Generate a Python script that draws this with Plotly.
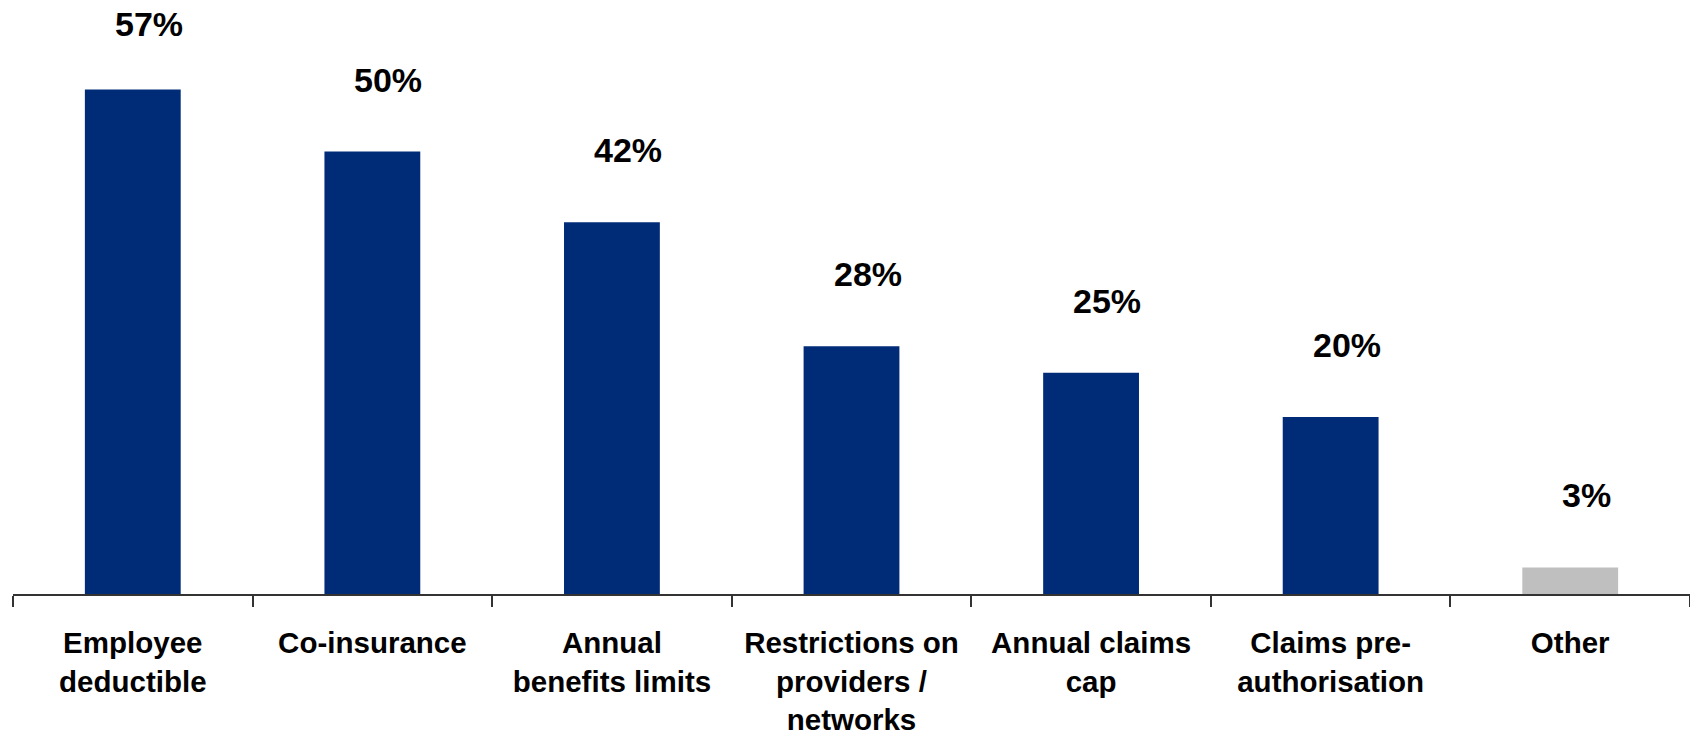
import plotly.graph_objects as go

categories = ["Employee<br>deductible", "Co-insurance", "Annual<br>benefits limits",
              "Restrictions on<br>providers /<br>networks", "Annual claims<br>cap",
              "Claims pre-<br>authorisation", "Other"]
values = [57, 50, 42, 28, 25, 20, 3]
labels = ["57%", "50%", "42%", "28%", "25%", "20%", "3%"]
colors = ["#002C77"] * 6 + ["#BFBFBF"]

fig = go.Figure()
fig.add_trace(go.Bar(x=categories, y=values, marker=dict(color=colors, line=dict(width=0)),
                     hoverinfo="skip"))

for i, (c, v, t) in enumerate(zip(categories, values, labels)):
    fig.add_annotation(x=c, y=v, text=t, showarrow=False, yshift=66 if i == 0 else 72, xshift=16,
                       yanchor="middle", xanchor="center",
                       font=dict(family="Liberation Sans, Arial, sans-serif", size=34,
                                 color="black", weight="bold"))

fig.update_layout(
    width=1690, height=737,
    margin=dict(l=13, r=0, t=63, b=143, autoexpand=False),
    paper_bgcolor="white", plot_bgcolor="white",
    bargap=0.6, showlegend=False,
    font=dict(family="Liberation Sans, Arial, sans-serif", color="black"),
)
fig.update_xaxes(
    showline=True, linecolor="#333333", linewidth=1.5,
    ticks="outside", tickson="boundaries", ticklen=11, tickcolor="#333333", tickwidth=1.5,
    ticklabelstandoff=22, tickangle=0, automargin=False,
    tickfont=dict(family="Liberation Sans, Arial, sans-serif", size=29.5, color="black", weight="bold"),
    showgrid=False,
)
fig.update_yaxes(range=[0, 60], visible=False, showgrid=False, zeroline=False)

fig.write_html("out.html")
